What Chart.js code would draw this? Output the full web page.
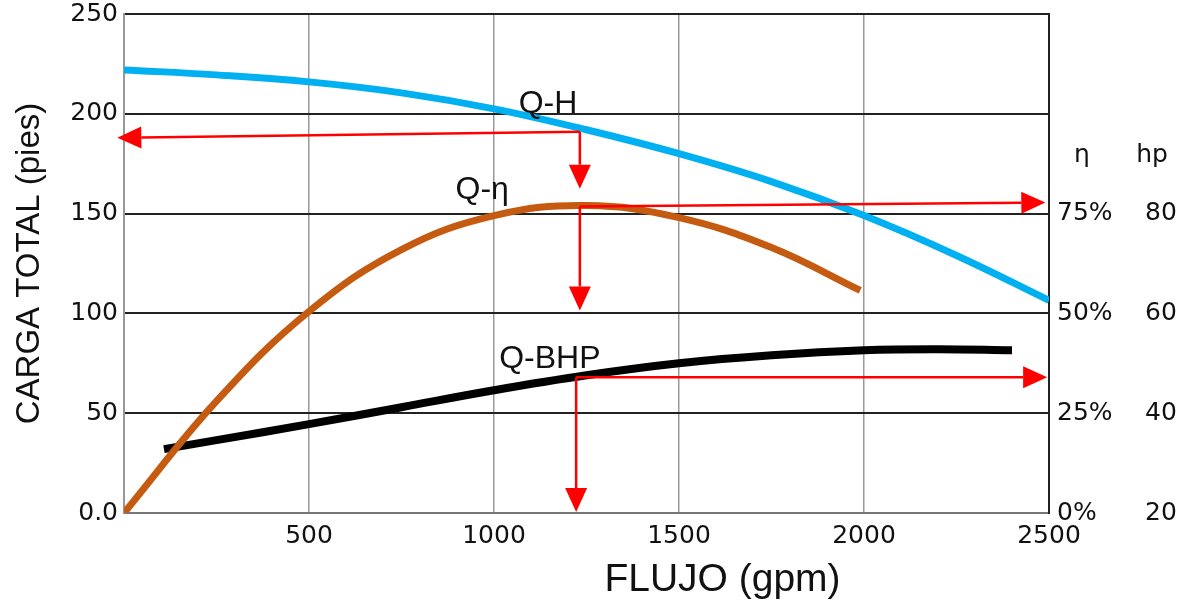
<!DOCTYPE html>
<html>
<head>
<meta charset="utf-8">
<script src="https://cdn.jsdelivr.net/npm/chart.js@4/dist/chart.umd.min.js"></script>
<style>
  body { margin: 0; background: #fff; }
  #wrap { width: 1191px; height: 602px; }
</style>
</head>
<body>
<div id="wrap"><canvas id="curvas"></canvas></div>
<script>
// Curvas de la bomba (flujo gpm, valor en escala izquierda)
const curvaQH = [[0, 222], [250, 219.5], [500, 216], [750, 210.5], [1000, 202.5], [1250, 192], [1500, 180], [1750, 166], [2000, 149], [2250, 129], [2500, 106.5]];
const curvaQEta = [[0, 0], [250, 56], [500, 101], [750, 132], [1000, 149], [1250, 154], [1500, 148], [1750, 133], [1990, 111.5]];
const curvaQBHP = [[108, 32], [250, 36.5], [500, 44.5], [750, 53], [1000, 61.5], [1250, 69], [1500, 75], [1750, 79], [2000, 81.5], [2200, 82], [2400, 81.5]];

// Flechas rojas: [desde, hasta] en coordenadas de datos
const flechas = [
  [[1232, 191], [-18, 188]],
  [[1232, 191], [1232, 162.5]],
  [[1232, 153.5], [1232, 101.5]],
  [[1232, 153.5], [2490, 155.5]],
  [[1222, 68], [1222, 0.5]],
  [[1222, 68], [2495, 68]]
];

// Etiquetas de curvas
const etiquetas = [
  { texto: 'Q-H', x: 1146, y: 205 },
  { texto: 'Q-η', x: 968, y: 161.5 },
  { texto: 'Q-BHP', x: 1151, y: 77 }
];

const ticksEta = [0, 25, 50, 75];   // %
const ticksHp = [20, 40, 60, 80];

const toXY = arr => arr.map(p => ({ x: p[0], y: p[1] }));

const anotaciones = {
  id: 'anotaciones',
  afterDatasetsDraw(chart) {
    const { ctx, scales: { x, y } } = chart;
    ctx.save();
    // flechas
    ctx.strokeStyle = '#ff0000';
    ctx.fillStyle = '#ff0000';
    ctx.lineWidth = 2.5;
    flechas.forEach(([a, b]) => {
      const x1 = x.getPixelForValue(a[0]), y1 = y.getPixelForValue(a[1]);
      const x2 = x.getPixelForValue(b[0]), y2 = y.getPixelForValue(b[1]);
      const ang = Math.atan2(y2 - y1, x2 - x1);
      const len = 24, half = 11;
      const bx = x2 - len * Math.cos(ang), by = y2 - len * Math.sin(ang);
      ctx.beginPath();
      ctx.moveTo(x1, y1);
      ctx.lineTo(bx, by);
      ctx.stroke();
      ctx.beginPath();
      ctx.moveTo(x2, y2);
      ctx.lineTo(bx + half * Math.sin(ang), by - half * Math.cos(ang));
      ctx.lineTo(bx - half * Math.sin(ang), by + half * Math.cos(ang));
      ctx.closePath();
      ctx.fill();
    });
    // etiquetas
    ctx.fillStyle = '#111';
    ctx.font = '32px "Liberation Sans", Arial, sans-serif';
    ctx.textAlign = 'center';
    ctx.textBaseline = 'middle';
    etiquetas.forEach(e => {
      ctx.fillText(e.texto, x.getPixelForValue(e.x), y.getPixelForValue(e.y));
    });
    ctx.restore();
  },
  afterDraw(chart) {
    const { ctx, chartArea, scales } = chart;
    ctx.save();
    ctx.fillStyle = '#111';
    ctx.textAlign = 'center';
    ctx.textBaseline = 'middle';
    ctx.font = '39px "Liberation Sans", Arial, sans-serif';
    ctx.fillText('FLUJO (gpm)', chartArea.left + 0.647 * (chartArea.right - chartArea.left), 580);
    ctx.font = '25px "DejaVu Sans", sans-serif';
    const hy = scales.y.getPixelForValue(179);
    ctx.fillText('η', scales.yEta.left + 33, hy);
    ctx.fillText('hp', scales.yHp.left + 13, hy);
    ctx.restore();
  }
};

const fuenteTick = { family: '"DejaVu Sans", sans-serif', size: 25 };

// ancho fijo de cada eje y sin margen extra arriba
const fijarAncho = w => s => { s.width = w; s.paddingTop = 14; s.paddingBottom = 0; };

new Chart(document.getElementById('curvas'), {
  type: 'line',
  data: {
    datasets: [
      { label: 'Q-H', data: toXY(curvaQH), borderColor: '#00b0f0', borderWidth: 7, tension: 0.4, pointRadius: 0 },
      { label: 'Q-η', data: toXY(curvaQEta), borderColor: '#c55a11', borderWidth: 7, tension: 0.4, pointRadius: 0 },
      { label: 'Q-BHP', data: toXY(curvaQBHP), borderColor: '#000000', borderWidth: 8, tension: 0.4, pointRadius: 0 }
    ]
  },
  options: {
    responsive: true,
    maintainAspectRatio: false,
    animation: false,
    layout: { padding: 0 },
    plugins: { legend: { display: false }, tooltip: { enabled: false } },
    scales: {
      x: {
        type: 'linear', min: 0, max: 2500,
        grid: { color: '#999', lineWidth: 1.5, drawTicks: false },
        border: { color: '#777', width: 2 },
        ticks: {
          stepSize: 500, padding: 8, color: '#111', font: fuenteTick,
          maxRotation: 0, autoSkip: false,
          callback: v => v === 0 ? '' : v
        },
        afterFit: s => { s.height = 89; }
      },
      y: {
        position: 'left', min: 0, max: 250,
        grid: { color: '#222', lineWidth: 2, drawTicks: false },
        border: { color: '#999', width: 2 },
        ticks: {
          stepSize: 50, padding: 6, color: '#111', font: fuenteTick,
          callback: v => v === 0 ? '0.0' : v
        },
        title: {
          display: true, text: 'CARGA TOTAL (pies)', color: '#111',
          font: { family: '"Liberation Sans", Arial, sans-serif', size: 33 },
          padding: { top: 10, bottom: 0 }
        },
        afterFit: fijarAncho(124)
      },
      yEta: {
        position: 'right', min: 0, max: 125,
        grid: { display: false, drawTicks: false },
        border: { color: '#222', width: 2 },
        afterBuildTicks: s => { s.ticks = ticksEta.map(v => ({ value: v })); },
        ticks: { padding: 8, color: '#111', font: fuenteTick, callback: v => v + '%' },
        afterFit: fijarAncho(90)
      },
      yHp: {
        position: 'right', min: 20, max: 120,
        grid: { display: false, drawTicks: false },
        border: { display: false },
        afterBuildTicks: s => { s.ticks = ticksHp.map(v => ({ value: v })); },
        ticks: { padding: 6, color: '#111', font: fuenteTick },
        afterFit: fijarAncho(52)
      }
    }
  },
  plugins: [anotaciones]
});
</script>
</body>
</html>
